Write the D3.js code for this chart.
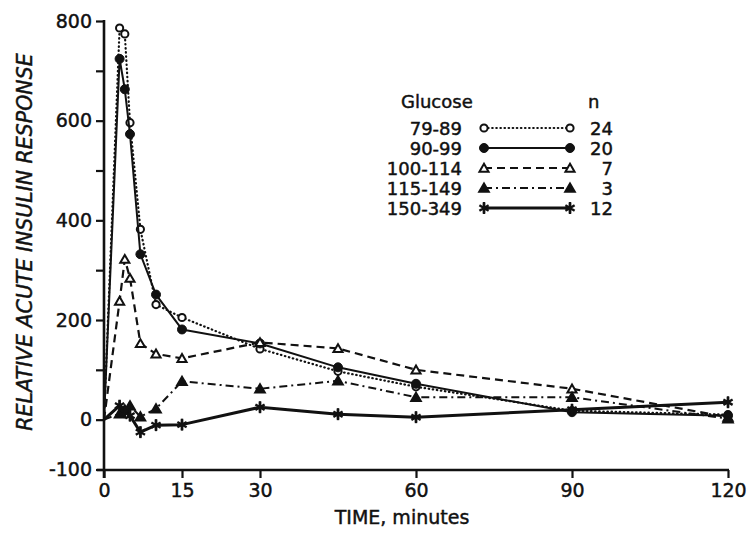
<!DOCTYPE html>
<html>
<head>
<meta charset="utf-8">
<script src="https://cdn.jsdelivr.net/npm/d3@7"></script>
<style>
  html, body { margin: 0; padding: 0; background: #fff; }
  svg text { font-family: "DejaVu Sans", sans-serif; fill: #111; stroke: #111; stroke-width: 0.45px; }
</style>
</head>
<body>
<div id="chart"></div>
<script>
// sample times (minutes)
const times = [0, 3, 4, 5, 7, 10, 15, 30, 45, 60, 90, 120];

// glucose groups and their n
const groups = ["79-89", "90-99", "100-114", "115-149", "150-349"];
const counts = ["24", "20", "7", "3", "12"];

// relative acute insulin response, one array per glucose group
const g79_89   = [0, 786, 774, 596, 382, 231, 205, 142, 97, 66, 18, 10];
const g90_99   = [0, 724, 663, 573, 332, 251, 181, 153, 105, 72, 15, 8];
const g100_114 = [0, 238, 322, 284, 153, 132, 123, 155, 143, 100, 62, 5];
const g115_149 = [0, 12, 20, 28, 6, 22, 77, 62, 78, 45, 45, 2];
const g150_349 = [0, 28, 15, 8, -25, -11, -10, 25, 11, 5, 20, 35];

const xTicks = [0, 15, 30, 60, 90, 120];
const yTicks = [-100, 0, 200, 400, 600, 800];
const yMinor = [100, 300, 500, 700];

const width = 752, height = 534;
const svg = d3.select('#chart').append('svg')
    .attr('width', width).attr('height', height);

const x = d3.scaleLinear().domain([0, 120]).range([104, 728]);
const y = d3.scaleLinear().domain([-100, 800]).range([469.5, 21]);

// series styles
const styles = [
    {data: g79_89,   dash: '0.5,3.6', width: 2.2, marker: 'circle', fill: false},
    {data: g90_99,   dash: null,      width: 2,   marker: 'circle', fill: true},
    {data: g100_114, dash: '8,5',     width: 2.2, marker: 'triangle', fill: false},
    {data: g115_149, dash: '8,4,2,4', width: 2,   marker: 'triangle', fill: true},
    {data: g150_349, dash: null,      width: 3,   marker: 'star', fill: true}
];

// axes
const yAxis = d3.axisLeft(y).tickValues(yTicks.concat(yMinor)).tickSize(8).tickPadding(4)
    .tickFormat(d => yTicks.includes(d) ? (d < 0 ? '-' + Math.abs(d) : d) : '');
const gy = svg.append('g').attr('transform', 'translate(104,0)').call(yAxis);
gy.select('.domain').remove();
gy.selectAll('line').attr('stroke', '#111').attr('stroke-width', 2.2);
gy.selectAll('text').style('font-size', '19px');

const xAxis = d3.axisBottom(x).tickValues(xTicks).tickSize(8).tickPadding(6);
const gx = svg.append('g').attr('transform', 'translate(0,470)').call(xAxis);
gx.select('.domain').remove();
gx.selectAll('line').attr('stroke', '#111').attr('stroke-width', 2.2);
gx.selectAll('text').style('font-size', '19px');

// axis lines (cross at the origin corner)
svg.append('line').attr('x1', 104).attr('x2', 104).attr('y1', y(800) - 1).attr('y2', 478)
    .attr('stroke', '#111').attr('stroke-width', 2.6);
svg.append('line').attr('x1', 97).attr('x2', x(120) + 1).attr('y1', 470).attr('y2', 470)
    .attr('stroke', '#111').attr('stroke-width', 2.6);

// axis titles
svg.append('text')
    .attr('transform', 'translate(32,242) rotate(-90)')
    .attr('text-anchor', 'middle')
    .style('font-size', '20.5px').style('font-style', 'italic')
    .text('RELATIVE ACUTE INSULIN RESPONSE');
svg.append('text')
    .attr('x', 402).attr('y', 524).attr('text-anchor', 'middle')
    .style('font-size', '19px')
    .text('TIME, minutes');

function drawMarker(g, kind, fill, cx, cy) {
    if (kind === 'circle') {
        g.append('circle').attr('cx', cx).attr('cy', cy)
            .attr('r', fill ? 4.5 : 3.6)
            .attr('fill', fill ? '#111' : '#fff')
            .attr('stroke', '#111').attr('stroke-width', fill ? 1 : 2);
    } else if (kind === 'triangle') {
        g.append('path').attr('transform', `translate(${cx},${cy + 1})`)
            .attr('d', d3.symbol().type(d3.symbolTriangle).size(fill ? 40 : 36)())
            .attr('fill', fill ? '#111' : '#fff')
            .attr('stroke', '#111').attr('stroke-width', 2);
    } else {
        g.append('path').attr('transform', `translate(${cx},${cy})`)
            .attr('d', d3.symbol().type(d3.symbolAsterisk).size(80)())
            .attr('fill', 'none')
            .attr('stroke', '#111').attr('stroke-width', 2.4);
        g.append('line').attr('x1', cx).attr('x2', cx).attr('y1', cy - 6).attr('y2', cy + 6)
            .attr('stroke', '#111').attr('stroke-width', 2.4);
    }
}

const line = d3.line().x(d => x(d[0])).y(d => y(d[1]));

const plot = svg.append('g');
styles.forEach(s => {
    const pts = times.map((t, i) => [t, s.data[i]]);
    plot.append('path')
        .attr('d', line(pts))
        .attr('fill', 'none')
        .attr('stroke', '#111')
        .attr('stroke-width', s.width)
        .attr('stroke-linecap', s.dash && s.dash.startsWith('0.5') ? 'round' : 'butt')
        .attr('stroke-linejoin', 'round')
        .attr('stroke-dasharray', s.dash);
    pts.slice(1).forEach(p => drawMarker(plot, s.marker, s.fill, x(p[0]), y(p[1])));
});

// legend
const legend = svg.append('g');
legend.append('text').attr('x', 401).attr('y', 108).style('font-size', '18px').text('Glucose');
legend.append('text').attr('x', 588).attr('y', 108).style('font-size', '18px').text('n');
const rowY = d3.scalePoint().domain(groups).range([128, 208]);
groups.forEach((gname, i) => {
    const cy = rowY(gname);
    const s = styles[i];
    legend.append('text').attr('x', 462).attr('y', cy + 6.5)
        .attr('text-anchor', 'end').style('font-size', '18px').text(gname);
    legend.append('path')
        .attr('d', d3.line()([[484, cy], [570, cy]]))
        .attr('stroke', '#111').attr('stroke-width', s.width)
        .attr('stroke-linecap', s.dash && s.dash.startsWith('0.5') ? 'round' : 'butt')
        .attr('stroke-dasharray', s.dash);
    drawMarker(legend, s.marker, s.fill, 484, cy);
    drawMarker(legend, s.marker, s.fill, 570, cy);
    legend.append('text').attr('x', 613).attr('y', cy + 6.5)
        .attr('text-anchor', 'end').style('font-size', '18px').text(counts[i]);
});
</script>
</body>
</html>
